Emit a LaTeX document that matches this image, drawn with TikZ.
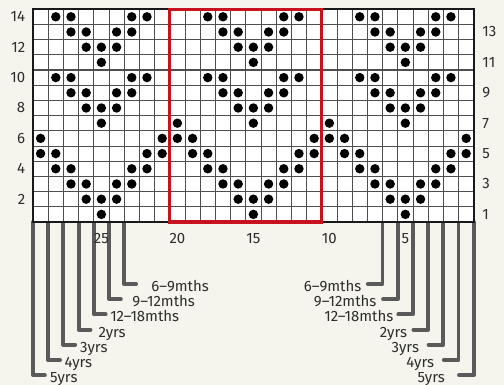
\documentclass[tikz,border=0pt]{standalone}
\usepackage{fontspec}
\setmainfont{Fira Sans}
\usetikzlibrary{positioning}
\definecolor{chartbg}{RGB}{245,245,237}
\definecolor{chartred}{RGB}{200,18,30}
\definecolor{lngray}{RGB}{90,90,90}
\definecolor{gridgray}{RGB}{78,78,78}
\definecolor{inkgray}{RGB}{45,45,45}
\tikzset{
  sizeln/.style={lngray, line width=3.6pt, line cap=round, line join=round},
  gridln/.style={gridgray, line width=0.6pt, step=0.5cm},
  brd/.style={draw=black!90, line width=2.3pt},
  redbox/.style={draw=chartred, line width=3pt},
  stdot/.style={fill=black},
  rowlab/.style={font=\fontsize{14}{16}\selectfont, text=inkgray, inner sep=0pt},
  collab/.style={font=\fontsize{14}{16}\selectfont, text=inkgray, inner sep=0pt},
  sizelab/.style={font=\fontsize{14}{16}\selectfont, text=inkgray, inner sep=0pt},
}

\begin{document}
\begin{tikzpicture}[x=0.5cm, y=0.5cm]
  \useasboundingbox[fill=chartbg] (-2.171,-10.72) rectangle (30.99,14.605);
  % size lines, left and right
  \foreach \j/\txt/\lx/\rx in {0/6--9mths/7.78/21.62, 1/9--12mths/6.53/22.61,
      2/12--18mths/5.07/23.72, 3/2yrs/4.30/24.63, 4/3yrs/3.09/25.41,
      5/4yrs/2.06/26.40, 6/5yrs/1.12/27.11} {
    \pgfmathsetmacro{\yy}{-4.08-\j}
    \coordinate (lt\j) at (6-\j,0);
    \coordinate (lb\j) at (6.78-\j,\yy);
    \coordinate (rt\j) at (23+\j,0);
    \coordinate (rb\j) at (22.03+\j,\yy);
    \draw[sizeln] (lt\j) |- (lb\j);
    \draw[sizeln] (rt\j) |- (rb\j);
    \node[sizelab, anchor=base west] (ls\j) at (\lx,\yy-0.5) {\txt};
    \node[sizelab, anchor=base east] (rs\j) at (\rx,\yy-0.5) {\txt};
  }
  % chart
  \fill[white] (0,0) rectangle (29,14);
  \draw[gridln] (0,0) grid (29,14);
  \draw[gridgray, line width=1.9pt] (0,10) -- (29,10);
  \foreach \r/\cs in {14/{2,3,7,8,12,13,17,18,22,23,27,28},
      13/{3,4,6,7,13,14,16,17,23,24,26,27}, 12/{4,5,6,14,15,16,24,25,26},
      11/{5,15,25}, 10/{2,3,7,8,12,13,17,18,22,23,27,28},
      9/{3,4,6,7,13,14,16,17,23,24,26,27}, 8/{4,5,6,14,15,16,24,25,26},
      7/{5,10,15,20,25}, 6/{1,9,10,11,19,20,21,29},
      5/{1,2,8,9,11,12,18,19,21,22,28,29}, 4/{2,3,7,8,12,13,17,18,22,23,27,28},
      3/{3,4,6,7,13,14,16,17,23,24,26,27}, 2/{4,5,6,14,15,16,24,25,26},
      1/{5,15,25}}
    \foreach \c in \cs \fill[stdot] (\c-0.5,\r-0.5) circle (0.31);
  \draw[brd] (0,0) rectangle (29,14);
  \draw[redbox] (9,0) rectangle (19,14);
  % row and stitch numbers
  \foreach \r in {2,4,...,14}
    \node[rowlab, anchor=east] (rowl\r) at (-0.5,\r-0.5) {\r};
  \foreach \r in {1,3,...,13}
    \node[rowlab, anchor=west] (rowr\r) at (29.56,\r-0.5) {\r};
  \foreach \c in {5,10,...,25} {
    \pgfmathtruncatemacro{\num}{30-\c}
    \node[collab] (col\num) at (\c-0.5,-1.12) {\num};
  }
\end{tikzpicture}
\end{document}
